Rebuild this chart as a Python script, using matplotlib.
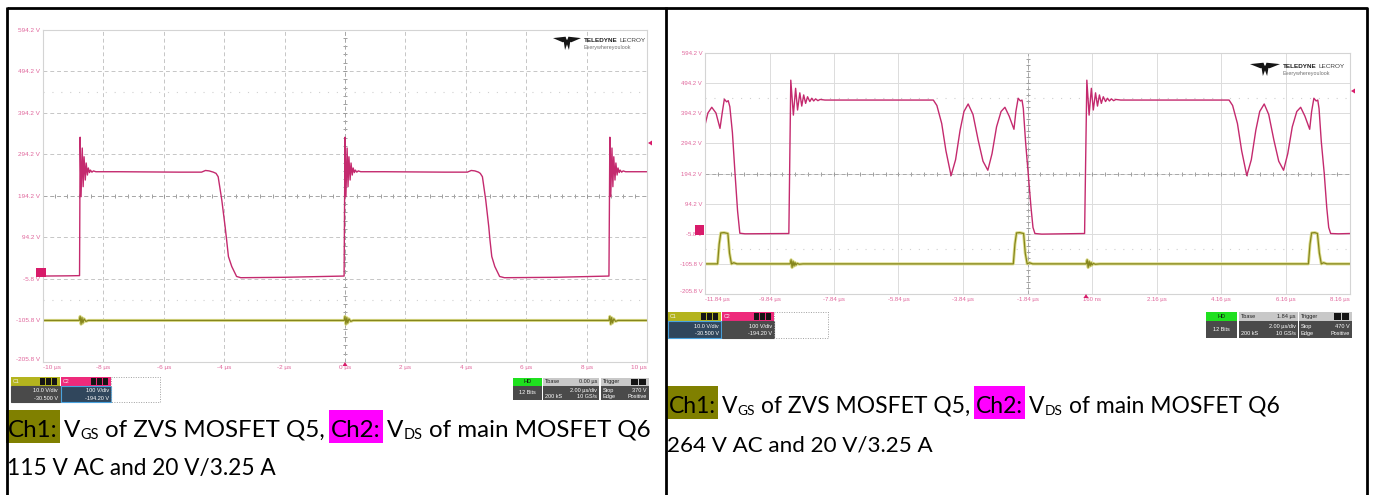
import matplotlib
matplotlib.use('Agg')
import matplotlib.pyplot as plt
from matplotlib.patches import Rectangle, Polygon

plt.rcParams['font.family'] = ['Lato', 'DejaVu Sans']

W, H = 1375, 495

# ---- scale labels ----
Y_TICKS = [594.2, 494.2, 394.2, 294.2, 194.2, 94.2, -5.8, -105.8, -205.8]
Y_LABELS = ['594.2 V', '494.2 V', '394.2 V', '294.2 V', '194.2 V', '94.2 V',
            '-5.8 V', '-105.8 V', '-205.8 V']
L_XTICKS = [-10, -8, -6, -4, -2, 0, 2, 4, 6, 8, 10]
L_XLABELS = ['-10 µs', '-8 µs', '-6 µs', '-4 µs', '-2 µs', '0 µs', '2 µs', '4 µs',
             '6 µs', '8 µs', '10 µs']
R_XTICKS = [-11.84, -9.84, -7.84, -5.84, -3.84, -1.84, 0.16, 2.16, 4.16, 6.16, 8.16]
R_XLABELS = ['-11.84 µs', '-9.84 µs', '-7.84 µs', '-5.84 µs', '-3.84 µs', '-1.84 µs',
             '160 ns', '2.16 µs', '4.16 µs', '6.16 µs', '8.16 µs']

# ---- left scope (115 V AC) ----
L_TIME_CH2 = [-10.0, -9.2, -8.79,
              -8.77, -8.74, -8.70, -8.67, -8.64, -8.60, -8.57, -8.53, -8.50, -8.46, -8.43, -8.38, -8.33, -8.25,
              -7.5, -5.5, -4.75, -4.62, -4.50, -4.36, -4.27, -4.20, -4.08, -3.97, -3.92, -3.86, -3.75, -3.67,
              -3.59, -3.45, -2.0, -0.03,
              0.00, 0.03, 0.07, 0.10, 0.13, 0.17, 0.20, 0.24, 0.27, 0.31, 0.34, 0.39, 0.44, 0.52,
              1.3, 3.3, 4.05, 4.18, 4.30, 4.42, 4.48, 4.55, 4.66, 4.76, 4.80, 4.86, 4.96, 5.04, 5.12, 5.28,
              7.0, 8.74,
              8.77, 8.80, 8.84, 8.87, 8.90, 8.94, 8.97, 9.01, 9.04, 9.08, 9.11, 9.16, 9.21, 9.29, 10.0]
L_VOLT_CH2 = [1, 1.5, 2,
              335, 192, 309, 216, 288, 232, 273, 244, 261, 250, 256, 251, 254, 252,
              252, 251, 251, 255, 254, 251, 248, 240, 184, 120, 88, 48, 24, 12, 0, -3, -2, 1,
              335, 192, 309, 216, 288, 232, 273, 244, 261, 250, 256, 251, 254, 252,
              252, 251, 251, 255, 254, 251, 248, 240, 184, 120, 88, 48, 24, 12, 0, -3, -2, 1,
              335, 192, 309, 216, 288, 232, 273, 244, 261, 250, 256, 251, 254, 252, 252]
L_TIME_CH1 = [-10.0, -8.80, -8.77, -8.74, -8.71, -8.68, -8.64, -8.58, -8.50,
              -0.03, 0.00, 0.03, 0.06, 0.09, 0.13, 0.19, 0.27,
              8.74, 8.77, 8.80, 8.83, 8.86, 8.90, 8.96, 9.04, 10.0]
L_VOLT_CH1 = [-105.8, -105.8, -96, -115, -99, -112, -102, -108, -105.8,
              -105.8, -96, -115, -99, -112, -102, -108, -105.8,
              -105.8, -96, -115, -99, -112, -102, -108, -105.8, -105.8]

# ---- right scope (264 V AC) ----
R_TIME_CH2 = [-11.84, -11.75, -11.63, -11.50, -11.375, -11.30, -11.24, -11.17, -11.12, -11.07, -10.99,
              -10.91, -10.83, -10.76, -10.60, -9.24,
              -9.18, -9.10, -9.03, -8.97, -8.90, -8.84, -8.78, -8.72, -8.66, -8.59, -8.53, -8.47, -8.41,
              -8.34, -8.27, -8.12, -6.50,
              -4.76, -4.65, -4.50, -4.37, -4.21, -4.07, -3.93, -3.81, -3.68, -3.53, -3.37, -3.22, -3.07,
              -2.94, -2.80, -2.66, -2.54, -2.41, -2.26, -2.20, -2.13, -2.06, -2.01, -1.97, -1.90, -1.82,
              -1.73, -1.67, -1.61, -1.40,
              -0.07, 0.00, 0.07, 0.14, 0.20, 0.27, 0.33, 0.39, 0.45, 0.51, 0.58, 0.64, 0.70, 0.76, 0.83,
              0.90, 1.05, 2.70,
              4.41, 4.52, 4.67, 4.80, 4.96, 5.10, 5.24, 5.36, 5.50, 5.64, 5.80, 5.95, 6.10, 6.23, 6.37,
              6.51, 6.63, 6.76, 6.91, 6.97, 7.04, 7.11, 7.16, 7.20, 7.27, 7.36, 7.44, 7.50, 7.56, 7.80, 8.16]
R_VOLT_CH2 = [355, 395, 414, 395, 344, 400, 441, 432, 436, 416, 330, 196, 70, -4, -6, -5,
              504, 388, 477, 405, 462, 418, 455, 427, 449, 433, 444, 435, 442, 436, 440, 438, 438,
              438, 420, 360, 270, 187, 240, 338, 400, 425, 390, 305, 235, 205, 260, 349, 400, 414, 385,
              341, 400, 444, 435, 438, 410, 300, 196, 80, 15, -5, -7,
              -5, 504, 388, 477, 405, 462, 418, 455, 427, 449, 433, 444, 435, 442, 436, 440, 438, 438,
              438, 420, 360, 270, 187, 240, 338, 400, 425, 390, 305, 235, 205, 260, 349, 400, 414, 385,
              341, 400, 444, 435, 438, 410, 300, 196, 80, 15, -5, -6, -5]
R_TIME_CH1 = [-11.84, -11.45, -11.40, -11.35, -11.25, -11.13, -11.08, -11.02, -10.95, -10.85,
              -9.20, -9.17, -9.14, -9.11, -9.08, -9.05, -9.02, -8.98, -8.92, -8.80,
              -2.28, -2.23, -2.18, -2.08, -1.96, -1.91, -1.85, -1.78, -1.68,
              -0.02, 0.01, 0.04, 0.07, 0.10, 0.13, 0.16, 0.20, 0.26, 0.40,
              6.87, 6.92, 6.97, 7.07, 7.15, 7.21, 7.27, 7.34, 7.44, 8.16]
R_VOLT_CH1 = [-105.8, -105.8, -40, -3, -2, -5, -70, -105.8, -102, -105.8,
              -105.8, -92, -118, -97, -113, -101, -110, -104, -107, -105.8,
              -105.8, -40, -3, -2, -5, -70, -105.8, -102, -105.8,
              -105.8, -92, -118, -97, -113, -101, -110, -104, -107, -105.8,
              -105.8, -40, -3, -2, -5, -70, -105.8, -102, -105.8, -105.8]

CH1_INFO = ['10.0 V/div', '-30.500 V']
CH2_INFO = ['100 V/div', '-194.20 V']
L_TBASE, L_TRIG = '0.00 µs', '370 V'
R_TBASE, R_TRIG = '1.84 µs', '470 V'

# (text, highlight colour, is subscript)
CAP_LINE1 = [('Ch1:', '#808000', False), ('V', None, False), ('GS', None, True),
             ('of ZVS MOSFET Q5,', None, False), ('Ch2:', '#ff00ff', False),
             ('V', None, False), ('DS', None, True), ('of main MOSFET Q6', None, False)]
L_CAP_LINE2 = '115 V AC and 20 V/3.25 A'
R_CAP_LINE2 = '264 V AC and 20 V/3.25 A'

PINK = '#e0679c'
TRACE2 = '#c42a6e'

fig = plt.figure(figsize=(W / 100, H / 100), dpi=100)
ov = fig.add_axes([0, 0, 1, 1], zorder=3)
ov.set_xlim(0, W)
ov.set_ylim(H, 0)
ov.axis('off')
ov.patch.set_alpha(0)


def scope(box, xlim, xticks, xlabels, t1, v1, t2, v2, solid, lab_size):
    x0, y0, x1, y1 = box
    ax = fig.add_axes([x0 / W, 1 - y1 / H, (x1 - x0) / W, (y1 - y0) / H], zorder=1)
    ax.set_xlim(*xlim)
    ax.set_ylim(-205.8, 594.2)
    ax.set_xticks(xticks)
    ax.set_xticklabels(xlabels, family='Liberation Sans')
    ax.set_yticks(Y_TICKS)
    ax.set_yticklabels(Y_LABELS, family='Liberation Sans')
    ax.tick_params(length=0, labelsize=lab_size, labelcolor=PINK, pad=2)
    xl = ax.get_xticklabels()
    xl[0].set_ha('left')
    xl[-1].set_ha('right')
    yl = ax.get_yticklabels()
    yl[-1].set_va('bottom')
    for s in ax.spines.values():
        s.set_color('#d4d4d4')
        s.set_linewidth(0.8)
    if solid:
        ax.grid(True, color='#dcdcdc', lw=0.7, ls='-')
    else:
        ax.grid(True, color='#c6c6c6', lw=0.7, ls=(0, (4, 3)))
    # half-division marker rows
    for y in (444.2, -55.8):
        ax.axhline(y, color='#d0d0d0', lw=0.8, ls=(0, (1, 7)))
    # centre cross ticks
    xc = (xlim[0] + xlim[1]) / 2
    step = (xlim[1] - xlim[0]) / 50
    xs = [xlim[0] + k * step for k in range(1, 50)]
    ax.plot(xs, [194.2] * len(xs), '|', ms=3, color='#909090', mew=0.6)
    ys = [-205.8 + k * 20 for k in range(1, 40)]
    ax.plot([xc] * len(ys), ys, '_', ms=3, color='#909090', mew=0.6)
    ax.axhline(194.2, color='#a8a8a8', lw=0.7, ls=(0, (4, 3)))
    ax.axvline(xc, color='#a8a8a8', lw=0.7, ls=(0, (4, 3)))
    # traces
    ax.plot(t1, v1, color='#dcdc8c', lw=2.2, solid_joinstyle='round')
    ax.plot(t1, v1, color='#86861c', lw=0.9)
    ax.plot(t2, v2, color=TRACE2, lw=1.0)
    return ax


scope((43, 29.5, 647, 362), (-10, 10), L_XTICKS, L_XLABELS,
      L_TIME_CH1, L_VOLT_CH1, L_TIME_CH2, L_VOLT_CH2, False, 4.6)
scope((705, 53, 1350, 294), (-11.84, 8.16), R_XTICKS, R_XLABELS,
      R_TIME_CH1, R_VOLT_CH1, R_TIME_CH2, R_VOLT_CH2, True, 4.3)

renderer = fig.canvas.get_renderer()


# ---- scope decorations (pixel coordinates) ----
def logo(x, y, w, h, fs):
    def pts(lst):
        return [(x + px * w, y + py * h) for px, py in lst]
    ov.add_patch(Polygon(pts([(0, 0.15), (0.45, 0.05), (0.5, 0.35), (0.35, 0.45)]), fc='#151515', ec='none'))
    ov.add_patch(Polygon(pts([(1, 0.15), (0.55, 0.05), (0.5, 0.35), (0.65, 0.45)]), fc='#151515', ec='none'))
    ov.add_patch(Polygon(pts([(0.38, 0.35), (0.5, 0.25), (0.62, 0.35), (0.57, 1.0), (0.5, 0.6), (0.43, 1.0)]),
                         fc='#151515', ec='none'))
    tx = x + w + 3
    t = ov.text(tx, y + h * 0.3, 'TELEDYNE', fontsize=fs, weight='bold', family='Liberation Sans',
                va='center', color='#202020')
    bb = t.get_window_extent(renderer)
    ov.text(bb.x1 + 1.5, y + h * 0.3, 'LECROY', fontsize=fs, family='Liberation Sans', va='center',
            color='#404040')
    ov.text(tx, y + h * 0.8, 'Everywhereyoulook', fontsize=fs * 0.85, family='Liberation Sans',
            va='center', color='#707070')


logo(553, 36, 28, 14, 4.6)
logo(1250, 62, 30, 14, 4.6)


def marker_tag(x0, y0, x1, y1):
    ov.add_patch(Rectangle((x0, y0), x1 - x0, y1 - y0, fc='#d81b6a', ec='none'))


def trig_left(x, y):
    ov.add_patch(Polygon([(x, y), (x + 4, y - 2.5), (x + 4, y + 2.5)], fc='#d81b6a', ec='none'))


def trig_up(x, y):
    ov.add_patch(Polygon([(x, y), (x - 2.5, y + 4), (x + 2.5, y + 4)], fc='#d81b6a', ec='none'))


marker_tag(36, 268, 46, 277)
marker_tag(695, 225, 704, 235)
trig_left(648, 143)
trig_left(1351, 91)
trig_up(345, 362)
trig_up(1086, 294)


def chan_box(x0, x1, y0, y1, head, body, edge, name, lines):
    hh = (y1 - y0) * 0.36
    ov.add_patch(Rectangle((x0, y0), x1 - x0, hh, fc=head, ec='none'))
    ov.add_patch(Rectangle((x0, y0 + hh), x1 - x0, y1 - y0 - hh, fc=body, ec=edge, lw=0.8))
    ov.text(x0 + 2, y0 + hh / 2, name, fontsize=3.8, family='Liberation Sans', va='center', color='#f4f4f4')
    for k in range(3):
        ov.add_patch(Rectangle((x1 - 2 - (3 - k) * 6, y0 + 1), 5, hh - 2, fc='#151515', ec='none'))
    bh = y1 - y0 - hh
    ov.text(x1 - 2, y0 + hh + bh * 0.3, lines[0], fontsize=4, family='Liberation Sans',
            ha='right', va='center', color='white')
    ov.text(x1 - 2, y0 + hh + bh * 0.75, lines[1], fontsize=4, family='Liberation Sans',
            ha='right', va='center', color='white')


def status_boxes(xs, y0, y1, tbase, trig):
    hh = (y1 - y0) * 0.36
    bh = y1 - y0 - hh
    ym1, ym2 = y0 + hh + bh * 0.3, y0 + hh + bh * 0.75
    kw = dict(fontsize=4, family='Liberation Sans', va='center')
    a, b, c, d, e, f = xs
    # HD
    ov.add_patch(Rectangle((a, y0), b - a, hh, fc='#1fe01f', ec='none'))
    ov.add_patch(Rectangle((a, y0 + hh), b - a, bh, fc='#4a4a4a', ec='none'))
    ov.text((a + b) / 2, y0 + hh / 2, 'HD', ha='center', color='#101010', **kw)
    ov.text((a + b) / 2, y0 + hh + bh / 2, '12 Bits', ha='center', color='white', **kw)
    # Tbase
    ov.add_patch(Rectangle((c, y0), d - c, hh, fc='#c8c8c8', ec='none'))
    ov.add_patch(Rectangle((c, y0 + hh), d - c, bh, fc='#4a4a4a', ec='none'))
    ov.text(c + 2, y0 + hh / 2, 'Tbase', ha='left', color='#202020', **kw)
    ov.text(d - 2, y0 + hh / 2, tbase, ha='right', color='#202020', **kw)
    ov.text(d - 2, ym1, '2.00 µs/div', ha='right', color='white', **kw)
    ov.text(c + 2, ym2, '200 kS', ha='left', color='white', **kw)
    ov.text(d - 2, ym2, '10 GS/s', ha='right', color='white', **kw)
    # Trigger
    ov.add_patch(Rectangle((e, y0), f - e, hh, fc='#c8c8c8', ec='none'))
    ov.add_patch(Rectangle((e, y0 + hh), f - e, bh, fc='#4a4a4a', ec='none'))
    ov.text(e + 2, y0 + hh / 2, 'Trigger', ha='left', color='#202020', **kw)
    for k in range(2):
        ov.add_patch(Rectangle((f - 2 - (2 - k) * 8, y0 + 1), 7, hh - 2, fc='#151515', ec='none'))
    ov.text(e + 2, ym1, 'Stop', ha='left', color='white', **kw)
    ov.text(f - 2, ym1, trig, ha='right', color='white', **kw)
    ov.text(e + 2, ym2, 'Edge', ha='left', color='white', **kw)
    ov.text(f - 2, ym2, 'Positive', ha='right', color='white', **kw)


# left scope info
chan_box(11, 60, 377, 402, '#b4b41e', '#4a4a4a', '#4a4a4a', 'C1', CH1_INFO)
chan_box(61, 111, 377, 402, '#ee2a7b', '#30465c', '#4aa3df', 'C2', CH2_INFO)
ov.add_patch(Rectangle((111, 377), 49, 25, fc='none', ec='#a0a0a0', lw=0.7, ls=(0, (1, 1.5))))
status_boxes((513, 542, 543, 599, 601, 649), 378, 400, L_TBASE, L_TRIG)

# right scope info
chan_box(668, 721, 312, 338, '#b4b41e', '#30465c', '#4aa3df', 'C1', CH1_INFO)
chan_box(722, 774, 312, 338, '#ee2a7b', '#4a4a4a', '#4a4a4a', 'C2', CH2_INFO)
ov.add_patch(Rectangle((774, 312), 54, 26, fc='none', ec='#a0a0a0', lw=0.7, ls=(0, (1, 1.5))))
status_boxes((1206, 1237, 1239, 1298, 1299, 1352), 312, 338, R_TBASE, R_TRIG)


# ---- captions ----
def caption(x, base, size, pieces):
    t = ov.text(0, 0, 'n n', fontsize=size)
    w1 = t.get_window_extent(renderer).width
    t.set_text('nn')
    space = w1 - t.get_window_extent(renderer).width
    t.remove()
    for i, (s, bg, sub) in enumerate(pieces):
        fs = size * 0.6 if sub else size
        y = base + (2 if sub else 0)
        t = ov.text(x, y, s, fontsize=fs, va='baseline', ha='left', color='black', zorder=3)
        bb = t.get_window_extent(renderer)
        if bg:
            ov.add_patch(Rectangle((bb.x0 - 2, base - 27), bb.width + 4, 33, fc=bg, ec='none', zorder=2))
        nxt = pieces[i + 1] if i + 1 < len(pieces) else None
        if nxt is not None and nxt[2]:
            x = bb.x1 + 0.5
        else:
            x = bb.x1 + space


caption(8, 437, 17.4, CAP_LINE1)
ov.text(7, 475, L_CAP_LINE2, fontsize=16.3, va='baseline', color='black')
caption(669, 413, 16.5, CAP_LINE1)
ov.text(667, 452, R_CAP_LINE2, fontsize=16.1, va='baseline', color='black')

# ---- table borders ----
ov.plot([7, 1367, 1367], [7.5, 7.5, H], color='black', lw=2, solid_capstyle='butt')
ov.plot([7, 7], [7, H], color='black', lw=2, solid_capstyle='butt')
ov.plot([666, 666], [7, H], color='black', lw=2, solid_capstyle='butt')

fig.savefig('out.png', dpi=100)
